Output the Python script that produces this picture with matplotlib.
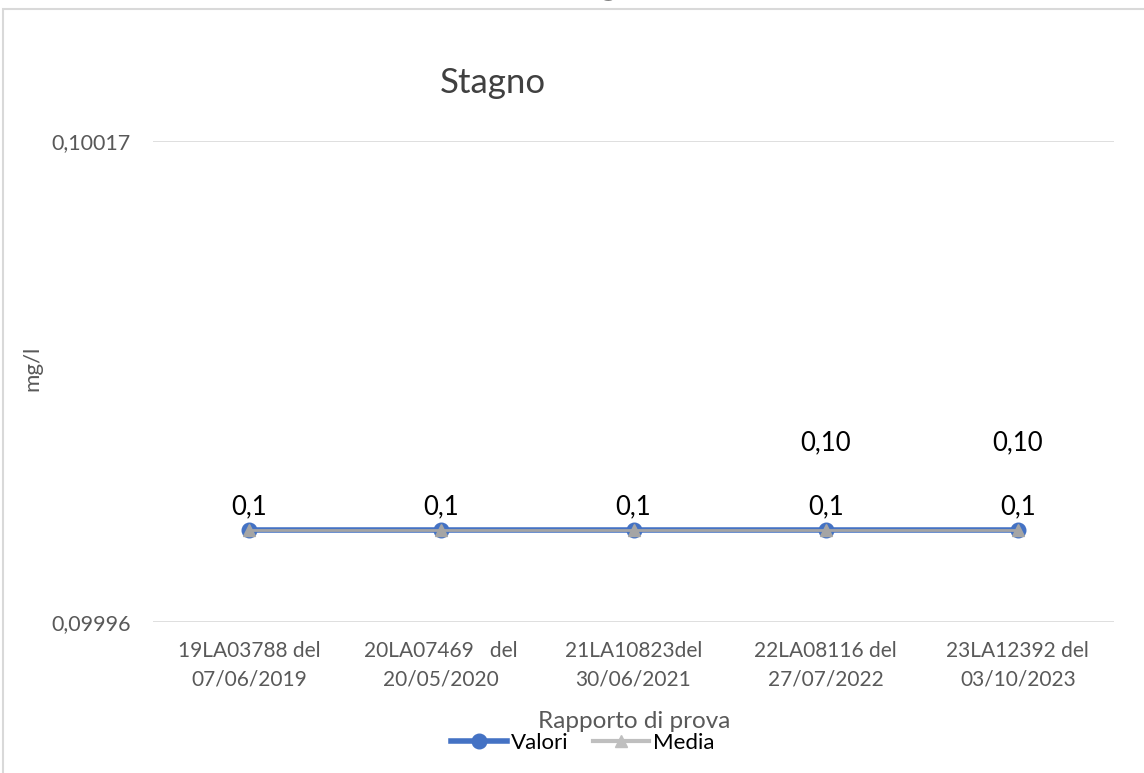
import matplotlib.pyplot as plt
from matplotlib.lines import Line2D
from matplotlib.patches import Rectangle
from matplotlib.ticker import FuncFormatter

plt.rcParams['font.family'] = ['Lato', 'DejaVu Sans']

# Data
categories = ['19LA03788 del\n07/06/2019', '20LA07469   del\n20/05/2020',
              '21LA10823del\n30/06/2021', '22LA08116 del\n27/07/2022',
              '23LA12392 del\n03/10/2023']
valori = [0.1, 0.1, 0.1, 0.1, 0.1]
media = [0.1, 0.1, 0.1, 0.1, 0.1]
valori_labels = ['0,1', '0,1', '0,1', '0,1', '0,1']
media_labels = ['', '', '', '0,10', '0,10']
y_ticks = [0.09996, 0.10017]

blue = '#4472C4'
grey = '#A5A5A5'
text_grey = '#595959'

fig = plt.figure(figsize=(11.44, 7.73), dpi=100)

# outer chart border (cut on right and bottom)
fig.patches.append(Rectangle((3 / 1144, -0.01), 1.0, 1 - 9 / 773 + 0.01,
                             transform=fig.transFigure, fill=False,
                             edgecolor='#D9D9D9', linewidth=1.5))

# big title, almost entirely cut off above the image
fig.text(0.527, 1 + 8.5 / 773, 'Stagno', ha='center', va='baseline',
         fontsize=34, fontweight='bold', color='black')

ax = fig.add_axes([153 / 1144, 1 - 622 / 773, 961 / 1144, 481 / 773])
x = list(range(len(categories)))

ax.plot(x, valori, color=blue, linewidth=4, marker='o', markersize=10.5, zorder=3)
ax.plot(x, media, color=grey, linewidth=2, marker='^', markersize=9, zorder=4)

for i in x:
    ax.annotate(valori_labels[i], (i, valori[i]), xytext=(0, 17),
                textcoords='offset points', ha='center', va='center',
                fontsize=18.5, color='black')
    if media_labels[i]:
        ax.annotate(media_labels[i], (i, media[i]), xytext=(0, 63),
                    textcoords='offset points', ha='center', va='center',
                    fontsize=18.5, color='black')

ax.set_xlim(-0.5, len(categories) - 0.5)
ax.set_ylim(y_ticks[0], y_ticks[1])
ax.set_yticks(y_ticks)
ax.yaxis.set_major_formatter(FuncFormatter(lambda v, p: f'{v:.5f}'.replace('.', ',')))
ax.set_xticks(x)
ax.set_xticklabels(categories, fontsize=15, color=text_grey, linespacing=1.5)
ax.tick_params(axis='y', labelsize=15.5, labelcolor=text_grey, length=0, pad=16)
ax.tick_params(axis='x', length=0, pad=14)
ax.grid(axis='y', color='#D9D9D9', linewidth=1.2)
ax.set_axisbelow(True)
for s in ax.spines.values():
    s.set_visible(False)

fig.text(32 / 1144, 1 - 368 / 773, 'mg/l', rotation=90, ha='center', va='center',
         fontsize=16, color=text_grey)
fig.text(634 / 1144, 1 - 722 / 773, 'Rapporto di prova', ha='center', va='center',
         fontsize=17.5, color=text_grey)

fig.text(493 / 1144, 1 - 83 / 773, 'Stagno', ha='center', va='center',
         fontsize=25, color='#404040')

handles = [Line2D([], [], color=blue, linewidth=4, marker='o', markersize=10.5),
           Line2D([], [], color='#BFBFBF', linewidth=3, marker='^', markersize=9)]
fig.legend(handles, ['Valori', 'Media'], loc='center', bbox_to_anchor=(583 / 1144, 1 - 743 / 773),
           ncol=2, frameon=False, fontsize=16, handlelength=2.5,
           handletextpad=0.2, columnspacing=1.1, borderpad=0, borderaxespad=0)

fig.savefig('out.png', dpi=100)
